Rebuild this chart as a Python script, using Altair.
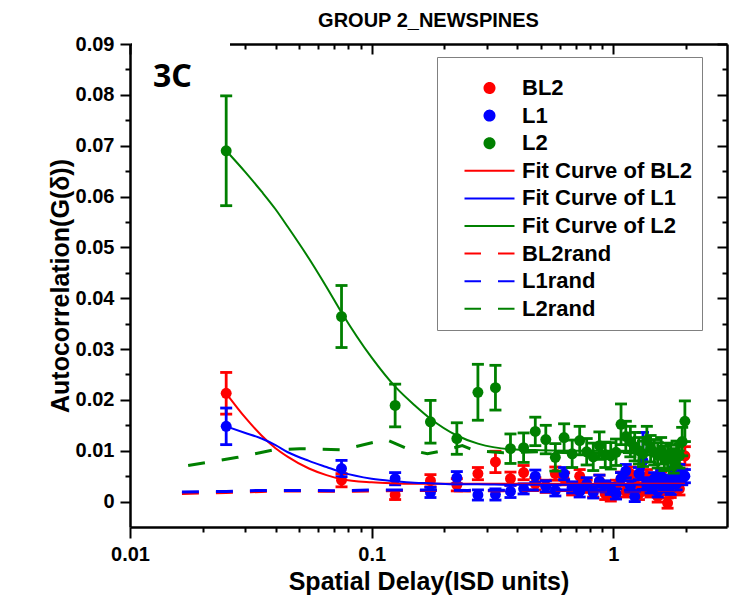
import altair as alt
import pandas as pd

# ---- data -----------------------------------------------------------------
delay = [0.025, 0.075, 0.125, 0.175, 0.225, 0.275, 0.325, 0.375, 0.425, 0.475,
         0.525, 0.575, 0.625, 0.675, 0.725, 0.775, 0.825, 0.875, 0.925, 0.975,
         1.025, 1.075, 1.125, 1.175, 1.225, 1.275, 1.325, 1.375, 1.425, 1.475,
         1.525, 1.575, 1.625, 1.675, 1.725, 1.775, 1.825, 1.875, 1.925, 1.975]

bl2 = [0.0213, 0.0042, 0.0013, 0.0041, 0.0033, 0.0055, 0.0078, 0.0045, 0.0057, 0.0035,
       0.0030, 0.0055, 0.0045, 0.0025, 0.0050, 0.0030, 0.0020, 0.0040, 0.0015, 0.0012,
       0.0030, 0.0045, 0.0020, 0.0055, 0.0035, 0.0015, 0.0025, 0.0050, 0.0020, 0.0030,
       0.0010, 0.0045, 0.0025, -0.0003, 0.0020, 0.0035, 0.0060, 0.0025, 0.0050, 0.0090]
bl2_err = [0.0041, 0.0013, 0.0009, 0.0012, 0.0012, 0.0012, 0.0021, 0.0013, 0.0014, 0.0012,
           0.0012, 0.0013, 0.0012, 0.0012, 0.0013, 0.0012, 0.0011, 0.0012, 0.0011, 0.0011,
           0.0012, 0.0013, 0.0011, 0.0013, 0.0012, 0.0011, 0.0012, 0.0013, 0.0011, 0.0012,
           0.0011, 0.0013, 0.0012, 0.0010, 0.0012, 0.0012, 0.0014, 0.0012, 0.0014, 0.0018]

l1 = [0.0148, 0.0065, 0.0045, 0.0018, 0.0047, 0.0013, 0.0014, 0.0020, 0.0025, 0.0050,
      0.0030, 0.0022, 0.0055, 0.0028, 0.0020, 0.0035, 0.0018, 0.0040, 0.0030, 0.0025,
      0.0015, 0.0045, 0.0060, 0.0030, 0.0010, 0.0055, 0.0080, 0.0035, 0.0028, 0.0045,
      0.0020, 0.0050, 0.0030, 0.0040, 0.0025, 0.0055, 0.0035, 0.0060, 0.0045, 0.0050]
l1_err = [0.0036, 0.0016, 0.0012, 0.0010, 0.0012, 0.0010, 0.0011, 0.0012, 0.0010, 0.0012,
          0.0011, 0.0011, 0.0012, 0.0011, 0.0011, 0.0012, 0.0011, 0.0012, 0.0011, 0.0011,
          0.0010, 0.0012, 0.0013, 0.0011, 0.0010, 0.0012, 0.0056, 0.0012, 0.0011, 0.0012,
          0.0011, 0.0012, 0.0011, 0.0012, 0.0011, 0.0013, 0.0012, 0.0013, 0.0012, 0.0013]

l2 = [0.0690, 0.0364, 0.0189, 0.0157, 0.0124, 0.0215, 0.0224, 0.0104, 0.0106, 0.0138,
      0.0122, 0.0087, 0.0126, 0.0094, 0.0120, 0.0098, 0.0088, 0.0110, 0.0092, 0.0090,
      0.0097, 0.0152, 0.0128, 0.0118, 0.0108, 0.0100, 0.0094, 0.0120, 0.0104, 0.0097,
      0.0091, 0.0100, 0.0085, 0.0090, 0.0087, 0.0080, 0.0094, 0.0090, 0.0118, 0.0158]
l2_err = [0.0108, 0.0061, 0.0042, 0.0042, 0.0031, 0.0055, 0.0044, 0.0029, 0.0029, 0.0028,
          0.0028, 0.0027, 0.0027, 0.0027, 0.0028, 0.0026, 0.0027, 0.0027, 0.0025, 0.0026,
          0.0026, 0.0040, 0.0030, 0.0030, 0.0028, 0.0026, 0.0025, 0.0028, 0.0026, 0.0025,
          0.0025, 0.0026, 0.0024, 0.0025, 0.0024, 0.0024, 0.0025, 0.0024, 0.0028, 0.0040]

# fitted decay curves, sampled along the delay axis
fit_x = [0.025, 0.03, 0.035, 0.04, 0.045, 0.055, 0.065, 0.075, 0.1, 0.125,
         0.15, 0.175, 0.225, 0.275, 0.375, 0.5, 0.75, 1.0, 1.5, 1.975]
fit_bl2 = [0.0213, 0.0165, 0.0130, 0.0105, 0.0088, 0.0065, 0.0052, 0.0044, 0.0038, 0.0036,
           0.0035, 0.0035, 0.0035, 0.0035, 0.0035, 0.0035, 0.0035, 0.0035, 0.0035, 0.0035]
fit_l1 = [0.0148, 0.0135, 0.0124, 0.0111, 0.0097, 0.0080, 0.0068, 0.0058, 0.0045, 0.0040,
          0.0037, 0.0036, 0.0034, 0.0034, 0.0033, 0.0033, 0.0033, 0.0033, 0.0033, 0.0033]
fit_l2 = [0.0690, 0.0648, 0.0610, 0.0575, 0.0540, 0.0478, 0.0422, 0.0372, 0.0283, 0.0226,
          0.0190, 0.0163, 0.0130, 0.0114, 0.0103, 0.0101, 0.0100, 0.0100, 0.0100, 0.0100]

# randomised controls
rand_x_l2 = [0.0174, 0.0279, 0.0397, 0.0504, 0.0758, 0.1047, 0.1144, 0.1436, 0.170,
             0.197, 0.237, 0.267, 0.35, 0.5, 0.75, 1.0, 1.5, 1.975]
rand_l2 = [0.0071, 0.0087, 0.0102, 0.0104, 0.0102, 0.0118, 0.0122, 0.0102, 0.0094,
           0.0100, 0.0110, 0.0100, 0.0096, 0.0098, 0.0095, 0.0097, 0.0095, 0.0096]
rand_x = [0.0164, 0.025, 0.035, 0.05, 0.075, 0.1, 0.15, 0.25, 0.5, 1.0, 1.975]
rand_bl2 = [0.0016, 0.0018, 0.0020, 0.0021, 0.0020, 0.0021, 0.0022, 0.0021, 0.0022, 0.0021, 0.0022]
rand_l1 = [0.0019, 0.0020, 0.0022, 0.0022, 0.0021, 0.0023, 0.0023, 0.0022, 0.0023, 0.0022, 0.0023]

series_names = ["BL2", "L1", "L2",
                "Fit Curve of BL2", "Fit Curve of L1", "Fit Curve of L2",
                "BL2rand", "L1rand", "L2rand"]
RED, BLUE, GREEN = "#ff0000", "#0000ff", "#008000"
series_colors = [RED, BLUE, GREEN] * 3
# legend glyphs: dot, solid stroke, broken stroke
DOT, SOLID, BROKEN = "circle", "M-5,0H5", "M-5,0H-1.7M1.7,0H5"
series_glyphs = [DOT] * 3 + [SOLID] * 3 + [BROKEN] * 3

y_major = [0, 0.01, 0.02, 0.03, 0.04, 0.05, 0.06, 0.07, 0.08, 0.09]
y_minor = [0.005, 0.015, 0.025, 0.035, 0.045, 0.055, 0.065, 0.075, 0.085]
x_major = [0.01, 0.1, 1]
x_minor = [0.02, 0.03, 0.04, 0.05, 0.06, 0.07, 0.08, 0.09,
           0.2, 0.3, 0.4, 0.5, 0.6, 0.7, 0.8, 0.9, 2]

TITLE = "GROUP 2_NEWSPINES"
PANEL = "3C"
X_TITLE = "Spatial Delay(ISD units)"
Y_TITLE = "Autocorrelation(G(δ))"

# ---- layout ---------------------------------------------------------------
W, H = 597, 483
FONT = "Liberation Sans"

xs = alt.Scale(type="log", domain=[0.01, 2.95], nice=False)
ys = alt.Scale(domain=[-0.005, 0.09], nice=False, zero=False)
cs = alt.Scale(domain=series_names, range=series_colors)
ss = alt.Scale(domain=series_names, range=series_glyphs)

legend = alt.Legend(
    title=" ", titleFontSize=4, titlePadding=6.5,
    orient="none", legendX=307, legendY=13,
    padding=9.5, rowPadding=5.6,
    strokeColor="#808080", fillColor="white",
    symbolSize=100, symbolStrokeWidth=2, symbolOpacity=1, symbolDash=[1, 0],
    symbolOffset=32, labelOffset=21.5,
    labelFont=FONT, labelFontSize=22, labelFontWeight="bold", labelColor="black",
    labelLimit=400,
)
stroke_enc = alt.Stroke("series:N", scale=cs)
fill_enc = alt.Fill("series:N", scale=cs)
shape_enc = alt.Shape("series:N", scale=ss)

def frame(name, xv, yv, err=None):
    d = {"x": xv, "y": yv, "series": name}
    if err is not None:
        d["lo"] = [v - e for v, e in zip(yv, err)]
        d["hi"] = [v + e for v, e in zip(yv, err)]
    return pd.DataFrame(d)

pts = {"BL2": frame("BL2", delay, bl2, bl2_err),
       "L1": frame("L1", delay, l1, l1_err),
       "L2": frame("L2", delay, l2, l2_err)}

def X(field="x", axis=None):
    return alt.X(f"{field}:Q", scale=xs, axis=axis)

def Y(field="y", axis=None):
    return alt.Y(f"{field}:Q", scale=ys, axis=axis)

axis_common = dict(grid=False, domainColor="black", tickColor="black", tickWidth=2,
                   labelColor="black", titleColor="black")

# axes: bottom/left with labels, plus mirrored top/right and minor ticks
x_axis_main = alt.Axis(orient="bottom", values=x_major, format=".2~f", tickSize=11,
                       domainWidth=2.5, labelFont=FONT, labelFontSize=20, labelFontWeight="bold",
                       labelPadding=6, labelFlush=False, labelOverlap=False,
                       title=X_TITLE, titleFont=FONT, titleFontSize=25, titleFontWeight="bold",
                       titleY=62, titleBaseline="alphabetic", **axis_common)
y_axis_main = alt.Axis(orient="left", values=y_major, format=".2~f", tickSize=10,
                       domainWidth=2.5, labelFont=FONT, labelFontSize=20, labelFontWeight="bold",
                       labelPadding=6, labelOverlap=False,
                       title=Y_TITLE, titleFont=FONT, titleFontSize=25, titleFontWeight="bold",
                       titleX=-70, titleY=H / 2, titleAngle=270, titleAlign="center",
                       titleBaseline="middle", **axis_common)

def plain_axis(orient, values, size, offset=0, domain=False):
    return alt.Axis(orient=orient, values=values, tickSize=size, offset=offset,
                    labels=False, domain=domain, domainWidth=2.5, title=None, **axis_common)

guide_src = pts["L2"]
# this first layer draws nothing itself; it owns the axes and the legend definition
carrier = alt.Chart(pts["BL2"]).mark_point(filled=True, size=0, opacity=0).encode(
    x=X(axis=x_axis_main), y=Y(axis=y_axis_main),
    fill=alt.Fill("series:N", scale=cs, legend=legend),
    stroke=alt.Stroke("series:N", scale=cs, legend=legend),
    shape=alt.Shape("series:N", scale=ss, legend=legend),
)
guides = [
    alt.Chart(guide_src).mark_point(opacity=0).encode(
        x=X(axis=plain_axis("bottom", x_minor, 5)), y=Y(axis=plain_axis("left", y_minor, 5))),
    alt.Chart(guide_src).mark_point(opacity=0).encode(
        x=X(axis=plain_axis("bottom", x_major, 10, -H, True)),
        y=Y(axis=plain_axis("left", y_major, 10, -W, True))),
    alt.Chart(guide_src).mark_point(opacity=0).encode(
        x=X(axis=plain_axis("bottom", x_minor, 5, -H)),
        y=Y(axis=plain_axis("left", y_minor, 5, -W))),
]

# data points with error bars
EW = 2.8
point_layers = []
for name in ["BL2", "L1", "L2"]:
    base = alt.Chart(pts[name])
    point_layers += [
        base.mark_rule(strokeWidth=EW).encode(x=X(), y=Y("lo"), y2="hi:Q", stroke=stroke_enc),
        base.mark_rule(strokeWidth=EW, xOffset=-6, x2Offset=6).encode(
            x=X(), x2=alt.X2("x"), y=Y("lo"), stroke=stroke_enc),
        base.mark_rule(strokeWidth=EW, xOffset=-6, x2Offset=6).encode(
            x=X(), x2=alt.X2("x"), y=Y("hi"), stroke=stroke_enc),
        base.mark_point(filled=True, size=120, opacity=1, strokeWidth=0).encode(
            x=X(), y=Y(), fill=fill_enc, stroke=stroke_enc, shape=shape_enc),
    ]

rand_df = pd.concat([frame("BL2rand", rand_x, rand_bl2),
                     frame("L1rand", rand_x, rand_l1),
                     frame("L2rand", rand_x_l2, rand_l2)])
fit_df = pd.concat([frame("Fit Curve of BL2", fit_x, fit_bl2),
                    frame("Fit Curve of L1", fit_x, fit_l1),
                    frame("Fit Curve of L2", fit_x, fit_l2)])

rand_layer = alt.Chart(rand_df).mark_line(strokeWidth=3, strokeDash=[17, 17]).encode(
    x=X(), y=Y(), stroke=stroke_enc, order="x:Q")
fit_layer = alt.Chart(fit_df).mark_line(strokeWidth=2, interpolate="monotone").encode(
    x=X(), y=Y(), stroke=stroke_enc, order="x:Q")

# panel label sits on a white patch that interrupts the top frame line
one = pd.DataFrame({"label": [PANEL]})
patch = alt.Chart(one).mark_rect(color="white").encode(
    x=alt.value(2), x2=alt.value(100), y=alt.value(-4), y2=alt.value(14))
panel = alt.Chart(one).mark_text(align="left", baseline="alphabetic", font="Noto Sans",
                                 fontSize=32, fontWeight="bold", color="black").encode(
    x=alt.value(23), y=alt.value(43), text="label:N")

chart = alt.layer(carrier, *guides, *point_layers, rand_layer, fit_layer, patch, panel).resolve_axis(
    x="independent", y="independent"
).properties(
    width=W, height=H,
    autosize=alt.AutoSizeParams(type="none"),
    padding={"left": 130, "top": 44, "right": 2, "bottom": 81},
    title=alt.TitleParams(TITLE, font=FONT, fontSize=20, fontWeight="bold", color="black",
                          anchor="middle", baseline="alphabetic", offset=15, dy=28),
).configure_view(stroke=None)

chart.save("out.html", embed_options={"renderer": "svg", "actions": False})
